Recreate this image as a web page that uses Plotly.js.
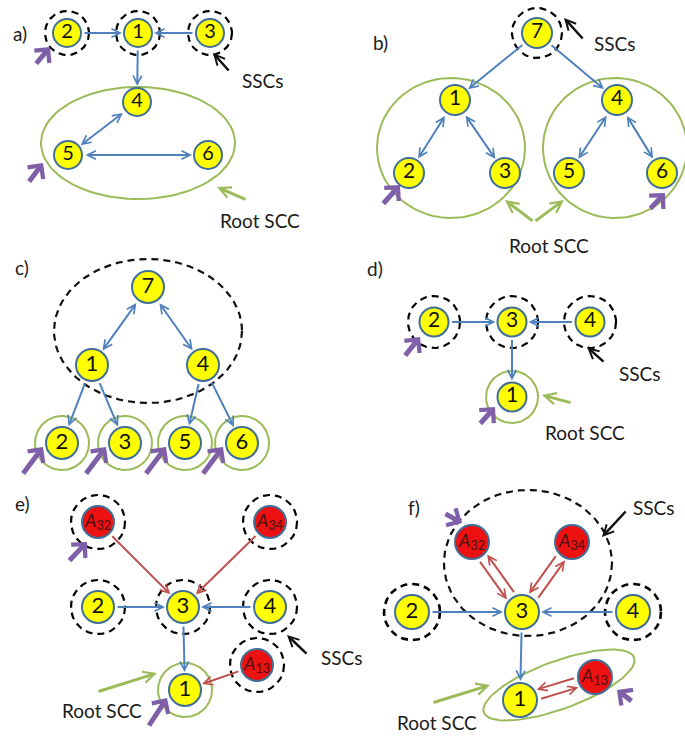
<!DOCTYPE html>
<html><head><meta charset="utf-8">
<script src="https://cdn.plot.ly/plotly-3.0.1.min.js"></script>
<style>html,body{margin:0;padding:0;background:#fff}</style>
</head><body><div id="chart" style="width:685px;height:738px"></div>
<script>
// ---- Data: graph nodes (id, label, kind, position) ----
const nodeId    = ['a2','a1','a3','a4','a5','a6',
                   'b7','b1','b4','b2','b3','b5','b6',
                   'c7','c1','c4','c2','c3','c5','c6',
                   'd2','d3','d4','d1',
                   'eA32','eA34','e2','e3','e4','eA13','e1',
                   'fA32','fA34','f2','f3','f4','f1','fA13'];
const nodeLabel = ['2','1','3','4','5','6',
                   '7','1','4','2','3','5','6',
                   '7','1','4','2','3','5','6',
                   '2','3','4','1',
                   '<i>A</i><sub>32</sub>','<i>A</i><sub>34</sub>','2','3','4','<i>A</i><sub>13</sub>','1',
                   '<i>A</i><sub>32</sub>','<i>A</i><sub>34</sub>','2','3','4','1','<i>A</i><sub>13</sub>'];
const nodeKind  = ['y','y','y','y','y','y',
                   'y','y','y','y','y','y','y',
                   'y','y','y','y','y','y','y',
                   'y','y','y','y',
                   'r','r','y','y','y','r','y',
                   'r','r','y','y','y','y','r'];
const nodeX = [67,138,210,137,68,208,
               537,455,617,409,505,569,662,
               148,92,203,62,125,185,242,
               434,512,590,512,
               98,270,98,183,270,257,185,
               472,572,412,522,633,520,595];
const nodeY = [33,33,33,102,155,155,
               33,100,100,173,173,173,173,
               287,365,365,443,443,443,443,
               322,322,322,397,
               522,522,607,607,607,665,690,
               542,542,612,612,612,700,677];

// ---- Data: edges ----
const edgeFrom = ['a2','a3','a1','a4','a5',
                  'b7','b7','b1','b1','b4','b4',
                  'c7','c7','c1','c1','c4','c4',
                  'd2','d4','d3',
                  'eA32','eA34','e2','e4','e3','eA13',
                  'f2','f4','f3','fA32','f3','f3','fA34','f1','fA13'];
const edgeTo   = ['a1','a1','a4','a5','a6',
                  'b1','b4','b2','b3','b5','b6',
                  'c1','c4','c2','c3','c5','c6',
                  'd3','d3','d1',
                  'e3','e3','e3','e3','e1','e1',
                  'f3','f3','f1','f3','fA32','fA34','f3','fA13','f1'];
const edgeBoth = [0,0,0,1,1,
                  0,0,1,1,1,1,
                  1,1,0,0,0,0,
                  0,0,0,
                  0,0,0,0,0,0,
                  0,0,0,0,0,0,0,0,0];
const edgeRed  = [0,0,0,0,0,
                  0,0,0,0,0,0,
                  0,0,0,0,0,0,
                  0,0,0,
                  1,1,0,0,0,1,
                  0,0,0,1,1,1,1,1,1];
const edgeParallel = [0,0,0,0,0, 0,0,0,0,0,0, 0,0,0,0,0,0, 0,0,0, 0,0,0,0,0,0,
                      0,0,0,1,1,1,1,1,1];

// ---- Data: groupings ----
const sscRing  = ['a2','a1','a3','b7','d2','d3','d4','eA32','eA34','e2','e3','e4','eA13','f2','f4'];
const rootRing = ['c2','c3','c5','c6','d1','e1'];

// ---- Data: panel labels and callouts ----
const panelLabel  = ['a)','b)','c)','d)','e)','f)'];
const panelLabelX = [20,380,22,375,22,414];
const panelLabelY = [33,42,267,268,503,507];

const sscTextX = [263,615,640,342,654];
const sscTextY = [80,43,373,657,507];
const sscArrow = [[230,72,213,53],[584,40,564,18],[605,363,587,347],[308,655,287,635],[627,510,602,537]];

const rootTextX = [260,549,585,102,437];
const rootTextY = [220,245,432,710,722];
const rootArrow = [[247,200,217,187],[534,222,505,200],[534,222,564,200],[572,403,542,395],[97,692,157,673],[432,703,490,685]];

const startArrow = [[35,65,50,47],[28,183,43,163],
                    [382,205,400,185],[649,210,665,193],
                    [22,475,43,447],[85,475,106,447],[145,475,166,447],[202,475,223,447],
                    [404,357,420,337],[479,425,495,407],
                    [68,562,87,542],[148,727,167,698],
                    [444,513,462,523],[633,702,617,690]];

// ---- Styles ----
const panelSize  = {a:30,b:32,c:34,d:31,e:34,f:36};
const panelFont  = {a:20,b:21,c:22,d:21,e:22,f:22};
const panelRingR = {a:22,b:25,c:27,d:26,e:27,f:28};
const BLUE='#4f81bd', RED='#c0504d', GREEN='#9bbb59', PURPLE='#7f5fa8', INK='#1a1a1a';
const FONT='Lato, "Open Sans", sans-serif';

const idx = {}; nodeId.forEach((n,i)=>idx[n]=i);
const sizeOf = id => panelSize[id[0]];

const annotations = [];

// edges
edgeFrom.forEach((f,i)=>{
  const a=idx[f], b=idx[edgeTo[i]];
  let x0=nodeX[a], y0=nodeY[a], x1=nodeX[b], y1=nodeY[b];
  if (edgeParallel[i]) {
    const dx=x1-x0, dy=y1-y0, L=Math.hypot(dx,dy);
    const px=-dy/L*5, py=dx/L*5;
    x0+=px; y0+=py; x1+=px; y1+=py;
  }
  annotations.push({x:x1,y:y1,ax:x0,ay:y0,xref:'x',yref:'y',axref:'x',ayref:'y',text:'',
    showarrow:true,arrowhead:5,startarrowhead:5,arrowsize:0.85,startarrowsize:0.85,arrowwidth:2,
    arrowcolor:edgeRed[i]?RED:BLUE, arrowside:edgeBoth[i]?'end+start':'end',
    standoff:sizeOf(edgeTo[i])/2+1, startstandoff:sizeOf(f)/2+1});
});

// rings and group outlines drawn as line traces (one trace per outline)
const outlineTraces = [];
function outline(cx,cy,rx,ry,deg,color,dash,w){
  const t=deg*Math.PI/180, X=[], Y=[];
  for(let k=0;k<=90;k++){const u=k/90*2*Math.PI;
    X.push(cx+rx*Math.cos(u)*Math.cos(t)-ry*Math.sin(u)*Math.sin(t));
    Y.push(cy+rx*Math.cos(u)*Math.sin(t)+ry*Math.sin(u)*Math.cos(t));}
  outlineTraces.push({type:'scatter',mode:'lines',x:X,y:Y,hoverinfo:'skip',
    line:{color:color,width:w||(dash?2.2:2),dash:dash?'7px,5px':'solid'}});
}
sscRing.forEach(id=>{ const i=idx[id], r=panelRingR[id[0]];
  outline(nodeX[i],nodeY[i],r,r,0,'#000',true,id[0]==='f'?2.6:2.2); });
rootRing.forEach(id=>{ const i=idx[id], r=panelRingR[id[0]]; outline(nodeX[i],nodeY[i],r,r,0,GREEN,false); });
outline(148,331,94,72,0,'#111',true);
outline(528,563,84,73,0,'#111',true);
outline(138,143,97,56,0,GREEN,false);
outline(451,148,74,70,0,GREEN,false);
outline(615,148,72,70,0,GREEN,false);
outline(559,685,80,24,-20,GREEN,false);

// panel labels
panelLabel.forEach((t,i)=>annotations.push({x:panelLabelX[i],y:panelLabelY[i],xref:'x',yref:'y',text:t,
  showarrow:false,font:{family:FONT,size:19,color:INK}}));
// SSCs callouts
sscTextX.forEach((x,i)=>annotations.push({x:x,y:sscTextY[i],xref:'x',yref:'y',text:'SSCs',showarrow:false,
  font:{family:FONT,size:19,color:INK}}));
sscArrow.forEach(a=>annotations.push({ax:a[0],ay:a[1],x:a[2],y:a[3],xref:'x',yref:'y',axref:'x',ayref:'y',text:'',
  showarrow:true,arrowhead:5,arrowsize:0.8,arrowwidth:2.5,arrowcolor:'#111'}));
// Root SCC callouts
rootTextX.forEach((x,i)=>annotations.push({x:x,y:rootTextY[i],xref:'x',yref:'y',text:'Root SCC',showarrow:false,
  font:{family:FONT,size:19,color:INK}}));
rootArrow.forEach(a=>annotations.push({ax:a[0],ay:a[1],x:a[2],y:a[3],xref:'x',yref:'y',axref:'x',ayref:'y',text:'',
  showarrow:true,arrowhead:5,arrowsize:0.75,arrowwidth:3,arrowcolor:GREEN}));
// start-node markers (purple)
startArrow.forEach(a=>annotations.push({ax:a[0],ay:a[1],x:a[2],y:a[3],xref:'x',yref:'y',axref:'x',ayref:'y',text:'',
  showarrow:true,arrowhead:4,arrowsize:0.75,arrowwidth:5,arrowcolor:PURPLE}));

const nodeTrace = {type:'scatter', mode:'markers+text', x:nodeX, y:nodeY, text:nodeLabel,
   textposition:'middle center', hoverinfo:'skip',
   marker:{size:nodeId.map(id=>sizeOf(id)-2), color:nodeKind.map(k=>k==='r'?'#ee1111':'#ffff00'),
           line:{color:'#3f6e96',width:2}, opacity:1},
   textfont:{family:FONT, size:nodeId.map((id,i)=>nodeKind[i]==='r'?18:panelFont[id[0]]),
             color:nodeKind.map(k=>k==='r'?'#4a1010':'#111')}};

Plotly.newPlot('chart',outlineTraces.concat([nodeTrace]),{
  width:685,height:738,margin:{l:0,r:0,t:0,b:0},
  paper_bgcolor:'#fff',plot_bgcolor:'#fff',showlegend:false,
  xaxis:{range:[0,685],visible:false,fixedrange:true},
  yaxis:{range:[738,0],visible:false,fixedrange:true},
  annotations:annotations
},{staticPlot:true});
</script></body></html>
